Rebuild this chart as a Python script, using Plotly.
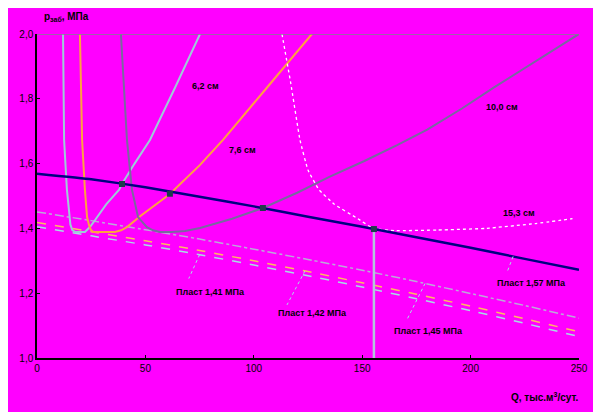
import numpy as np
import plotly.graph_objects as go

# ---- data ----
# tubing-diameter curves (Q, thousand m3/day ; p, MPa)
q_62 = [12.0, 12.5, 13.8, 14.6, 15.4, 16.3, 17.6, 22.1, 24.5, 26.8, 32.0, 37.8, 39.2, 45.0, 52.1, 63.7, 75.2]
p_62 = [2.0, 1.673, 1.519, 1.455, 1.412, 1.395, 1.389, 1.389, 1.405, 1.426, 1.475, 1.519, 1.537, 1.600, 1.673, 1.835, 2.0]

q_76 = [19.8, 20.8, 22.1, 23.1, 24.0, 24.8, 26.0, 36.0, 38.8, 41.5, 48.0, 55.4, 61.3, 75.2, 85.8, 106.5, 126.8]
p_76 = [2.0, 1.673, 1.519, 1.435, 1.410, 1.396, 1.389, 1.389, 1.394, 1.404, 1.440, 1.478, 1.506, 1.596, 1.673, 1.838, 2.0]

q_100 = [38.7, 41.5, 43.8, 46.6, 50.7, 53.5, 56.7, 62.0, 68.3, 75.2, 90.0, 104.2, 120.0, 135.1, 151.0, 166.1, 180.0, 196.0, 211.0, 230.0, 250.0]
p_100 = [2.0, 1.673, 1.519, 1.435, 1.404, 1.394, 1.389, 1.389, 1.392, 1.401, 1.430, 1.463, 1.510, 1.560, 1.608, 1.657, 1.705, 1.770, 1.836, 1.915, 2.0]

q_153 = [113.0, 117.0, 121.3, 125.0, 130.0, 137.0, 148.0, 155.0, 165.0, 185.0, 207.0, 230.0, 247.0]
p_153 = [2.0, 1.85, 1.673, 1.58, 1.52, 1.475, 1.43, 1.40, 1.393, 1.395, 1.40, 1.415, 1.43]

# reservoir / wellhead pressure lines
q_res = [0, 25, 50, 75, 100, 125, 150, 175, 200, 225, 250]
p_157 = [1.569, 1.552, 1.527, 1.498, 1.468, 1.436, 1.405, 1.373, 1.340, 1.306, 1.272]
p_145 = [1.451, 1.424, 1.396, 1.367, 1.336, 1.304, 1.271, 1.236, 1.199, 1.162, 1.123]
p_142 = [1.418, 1.390, 1.362, 1.332, 1.300, 1.267, 1.232, 1.197, 1.160, 1.121, 1.081]
p_141 = [1.405, 1.377, 1.349, 1.319, 1.287, 1.254, 1.219, 1.183, 1.146, 1.107, 1.066]

# operating points (intersections)
q_op = [39.2, 61.3, 104.2, 155.4]
p_op = [1.537, 1.507, 1.463, 1.398]

y_ticks = [1.0, 1.2, 1.4, 1.6, 1.8, 2.0]
y_ticktext = ["1,0", "1,2", "1,4", "1,6", "1,8", "2,0"]
x_ticks = [0, 50, 100, 150, 200, 250]
x_ticktext = ["0", "50", "100", "150", "200", "250"]

curve_names = ["6,2 см", "7,6 см", "10,0 см", "15,3 см"]
layer_names = ["Пласт 1,41 МПа", "Пласт 1,42 МПа", "Пласт 1,45 МПа", "Пласт 1,57 МПа"]

FONT = "Liberation Sans"
BG = "#ff00ff"

fig = go.Figure()

def line(x, y, color, width=2, dash="solid", name="", shape="spline"):
    fig.add_trace(go.Scatter(x=x, y=y, mode="lines", name=name,
                             line=dict(color=color, width=width, dash=dash, shape=shape, smoothing=0.3),
                             hoverinfo="skip", showlegend=False))

line(q_res, p_145, "#bca8d8", 1.5, "dashdot", layer_names[2])
line(q_res, p_142, "#ffb860", 1.5, "dash", layer_names[1])
line(q_res, p_141, "#a8dce4", 1.5, "dash", layer_names[0])
line(q_62, p_62, "#9ecbd8", 2, "solid", curve_names[0], "linear")
line(q_76, p_76, "#ffa040", 2, "solid", curve_names[1], "linear")
line(q_100, p_100, "#7a68a0", 2, "solid", curve_names[2], "linear")
line(q_153, p_153, "#ffffff", 1.3, "dot", curve_names[3])
line(q_res, p_157, "#000080", 2.5, "solid", layer_names[3])

# vertical line from last operating point down to the axis
fig.add_trace(go.Scatter(x=[q_op[-1], q_op[-1]], y=[p_op[-1], y_ticks[0]], mode="lines",
                         line=dict(color="#b4c4dc", width=2.5), hoverinfo="skip", showlegend=False))
fig.add_trace(go.Scatter(x=q_op, y=p_op, mode="markers",
                         marker=dict(symbol="square", size=6, color="#1e3c4c"),
                         hoverinfo="skip", showlegend=False))

# top border line at p = 2.0
fig.add_shape(type="line", xref="paper", yref="y", x0=0, x1=1, y0=y_ticks[-1], y1=y_ticks[-1],
              line=dict(color="#808090", width=1.5))

ann_font = dict(family=FONT, size=9, color="black")
# curve labels
for name, (qx, py) in zip(curve_names, [(77.5, 1.840), (95.0, 1.642), (214.5, 1.775), (222.3, 1.448)]):
    fig.add_annotation(x=qx, y=py, text="<b>" + name + "</b>", showarrow=False, font=ann_font)

# layer labels with leader lines
label_pos = [(79.8, 1.204), (127.3, 1.139), (180.4, 1.083), (227.9, 1.231)]
leader_q = [75.0, 123.6, 179.0, 219.6]
layer_series = [p_141, p_142, p_145, p_157]
leader_off = [(-5.0, -0.074), (-8.3, -0.105), (-8.3, -0.111), (-2.8, -0.049)]
for name, (qx, py), lq, ser, (dx, dy) in zip(layer_names, label_pos, leader_q, layer_series, leader_off):
    fig.add_annotation(x=qx, y=py, text="<b>" + name + "</b>", showarrow=False, font=ann_font)
    y0 = float(np.interp(lq, q_res, ser))
    fig.add_shape(type="line", xref="x", yref="y", x0=lq, y0=y0, x1=lq + dx, y1=y0 + dy,
                  line=dict(color="#a8e0e8", width=1, dash="dot"))

# axis titles
fig.add_annotation(xref="paper", yref="paper", x=0.009, y=1.052, xanchor="left", yanchor="middle",
                   text="<b>p<sub>заб</sub>, МПа</b>", showarrow=False,
                   font=dict(family=FONT, size=10, color="black"))
fig.add_annotation(xref="paper", yref="paper", x=0.937, y=-0.12, xanchor="center", yanchor="middle",
                   text="<b>Q, тыс.м<sup>3</sup>/сут.</b>", showarrow=False,
                   font=dict(family=FONT, size=10, color="black"))

fig.update_xaxes(range=[0, 250], tickvals=x_ticks, ticktext=x_ticktext, showgrid=False, zeroline=False,
                 showline=True, linecolor="black", linewidth=1.5, ticks="inside", ticklen=3,
                 tickcolor="black", tickfont=dict(family=FONT, size=10, color="black"))
fig.update_yaxes(range=[1.0, 2.0], tickvals=y_ticks, ticktext=y_ticktext, showgrid=False, zeroline=False,
                 showline=True, linecolor="black", linewidth=1.5, ticks="inside", ticklen=3,
                 tickcolor="black", tickfont=dict(family=FONT, size=10, color="black"))

fig.update_layout(width=593, height=404, paper_bgcolor=BG, plot_bgcolor=BG,
                  margin=dict(l=29, r=22, t=26, b=54), showlegend=False)

fig.write_html("out.html")
